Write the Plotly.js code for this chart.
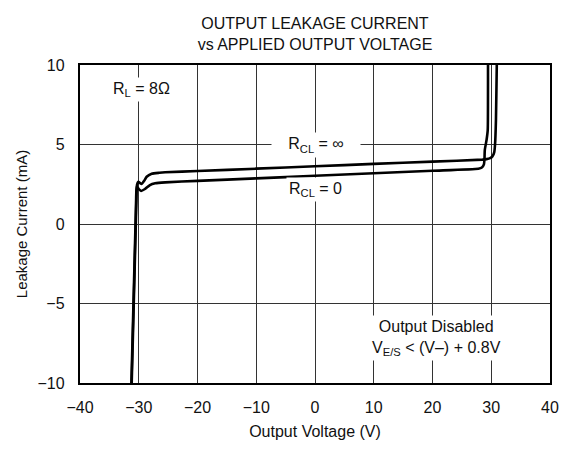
<!DOCTYPE html>
<html>
<head>
<meta charset="utf-8">
<script src="https://cdn.plot.ly/plotly-3.0.1.min.js"></script>
<style>html,body{margin:0;padding:0;background:#fff;}#chart{width:570px;height:450px;}</style>
</head>
<body>
<div id="chart"></div>
<script>
// R_CL = ∞ curve (Output Voltage V, Leakage Current mA)
const voltsInf = [-31.2, -30.85, -30.5, -30.4, -30.3, -30.07, -29.8, -29.5, -29.1, -28.65, -27.8, -26.5, -25.5, -20, -10, 0, 10, 20, 28.5, 29.2, 29.8, 30.2, 30.5, 30.64, 30.8, 30.94, 31.0];
const currInf  = [-10, -5, 0, 1.5, 2.45, 2.66, 2.58, 2.52, 2.7, 2.97, 3.16, 3.22, 3.25, 3.33, 3.48, 3.63, 3.78, 3.92, 4.05, 4.08, 4.14, 4.25, 4.5, 4.97, 6.54, 9.94, 11];
// R_CL = 0 curve
const voltsZero = [-31.25, -30.9, -30.55, -30.45, -30.35, -30.0, -29.6, -28.94, -28.1, -27.2, -25.5, -20, -10, 0, 10, 20, 27.8, 28.4, 28.75, 28.85, 28.9, 29.2, 29.4, 29.45, 29.47];
const currZero  = [-10, -5, 0, 1.5, 2.35, 2.2, 2.08, 2.2, 2.45, 2.56, 2.62, 2.71, 2.87, 3.03, 3.19, 3.35, 3.48, 3.55, 3.75, 4.1, 4.65, 5.28, 5.9, 9.94, 11];

const xTicks = [-40, -30, -20, -10, 0, 10, 20, 30, 40];
const yTicks = [-10, -5, 0, 5, 10];

const FONT = 'Liberation Sans, Arial, Helvetica, sans-serif';

const lineStyle = {color: '#000', width: 2.6, shape: 'spline', smoothing: 0.5};

const traces = [
  {x: voltsInf, y: currInf, mode: 'lines', name: 'R_CL = ∞', line: lineStyle, hoverinfo: 'x+y'},
  {x: voltsZero, y: currZero, mode: 'lines', name: 'R_CL = 0', line: lineStyle, hoverinfo: 'x+y'}
];

const axisCommon = {
  showgrid: true, gridcolor: '#333', gridwidth: 1,
  zeroline: false, showline: true, linecolor: '#000', linewidth: 2.2, mirror: true,
  ticks: '', tickfont: {family: FONT, size: 16, color: '#111'}
};

const layout = {
  width: 570, height: 450,
  margin: {l: 80, r: 20, t: 65, b: 67},
  paper_bgcolor: '#fff', plot_bgcolor: '#fff',
  showlegend: false,
  font: {family: FONT, color: '#111'},
  title: {
    text: 'OUTPUT LEAKAGE CURRENT<br>vs APPLIED OUTPUT VOLTAGE',
    font: {family: FONT, size: 16, color: '#111'},
    xref: 'paper', x: 0.5, xanchor: 'center',
    yref: 'container', y: 0.935, yanchor: 'middle'
  },
  xaxis: Object.assign({}, axisCommon, {
    range: [-40, 40], tickvals: xTicks, ticklabelstandoff: 9,
    title: {text: 'Output Voltage (V)', font: {family: FONT, size: 16, color: '#111'}, standoff: 10}
  }),
  yaxis: Object.assign({}, axisCommon, {
    range: [-10, 10], tickvals: yTicks, ticklabelstandoff: 10,
    title: {text: 'Leakage Current (mA)', font: {family: FONT, size: 15, color: '#111'}, standoff: 6}
  }),
  annotations: [
    {x: -29.5, y: 8.45, xref: 'x', yref: 'y', text: 'R<sub>L</sub> = 8Ω', showarrow: false,
     font: {family: FONT, size: 16, color: '#111'}, bgcolor: '#fff', borderpad: 2},
    {x: 0.1, y: 5, xref: 'x', yref: 'y', text: 'R<sub>CL</sub> = ∞', showarrow: false,
     font: {family: FONT, size: 16, color: '#111'}, bgcolor: '#fff', width: 86, height: 22, borderpad: 1},
    {x: 0.1, y: 2.14, xref: 'x', yref: 'y', text: 'R<sub>CL</sub> = 0', showarrow: false,
     font: {family: FONT, size: 16, color: '#111'}, bgcolor: '#fff', borderpad: 2},
    {x: 20.6, y: -7.2, xref: 'x', yref: 'y', text: 'Output Disabled<br>V<sub>E/S</sub> < (V–) + 0.8V', showarrow: false,
     font: {family: FONT, size: 16, color: '#111'}, bgcolor: '#fff', borderpad: 2}
  ]
};

Plotly.newPlot('chart', traces, layout, {displayModeBar: false, staticPlot: true});
</script>
</body>
</html>
